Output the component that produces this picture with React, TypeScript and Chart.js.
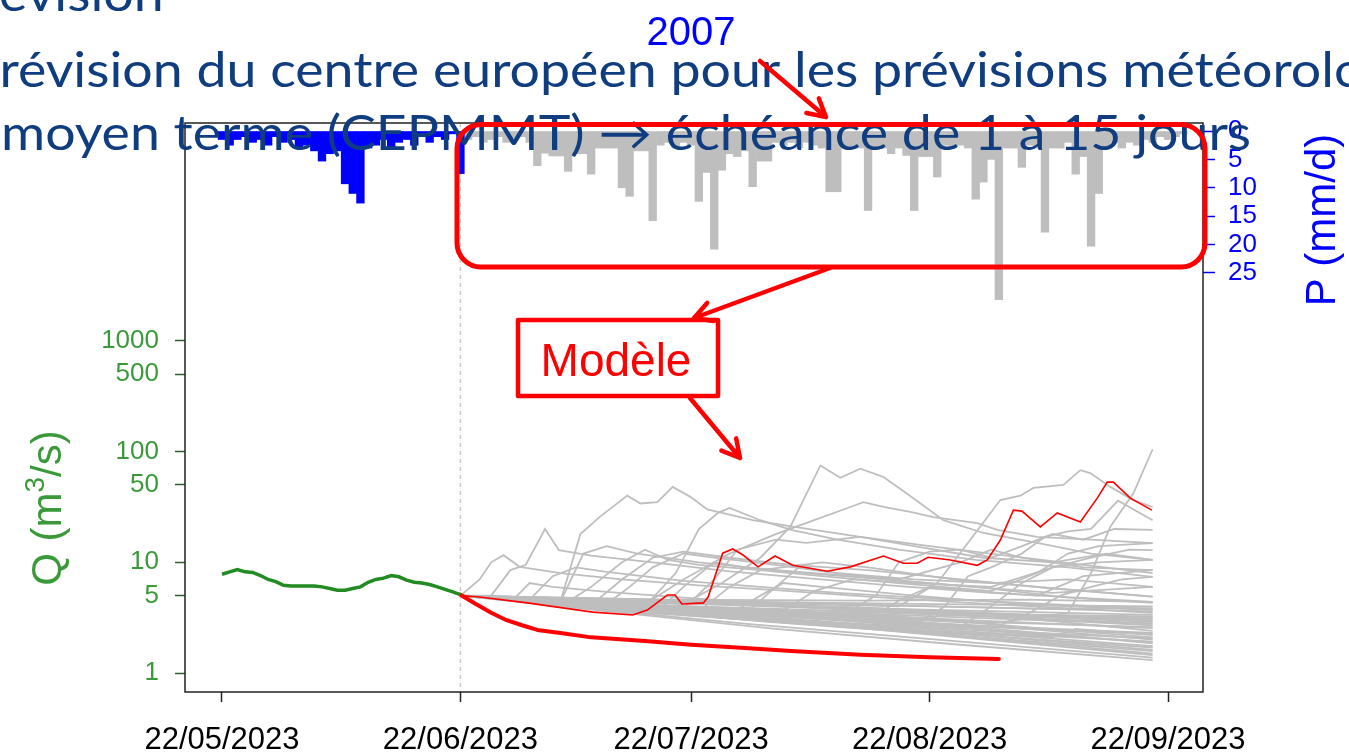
import React, { useEffect, useRef } from "react";
import { Chart, registerables } from "chart.js";

Chart.register(...registerables);

// ---------- data ----------
const DATE_TICK_DAYS = [0, 31, 61, 92, 123]; // days since 22/05/2023
const DATE_TICK_LABELS = ["22/05/2023", "22/06/2023", "22/07/2023", "22/08/2023", "22/09/2023"];
const Q_TICKS = [1, 5, 10, 50, 100, 500, 1000];
const P_TICKS = [0, 5, 10, 15, 20, 25];
const FORECAST_START = 31;

// observed discharge, days 0..31
const OBS_Q = [7.8, 8.2, 8.6, 8.2, 8.1, 7.6, 7.0, 6.7, 6.2, 6.1, 6.1, 6.1, 6.1, 6.0, 5.8, 5.6, 5.6, 5.8, 6.0, 6.6, 7.0, 7.2, 7.6, 7.4, 6.9, 6.6, 6.5, 6.3, 6.0, 5.7, 5.4, 5.1];
// observed precipitation, days 0..31
const OBS_P = [1.5, 2.5, 1.5, 1, 2, 1.5, 2.5, 1, 2, 1.5, 3, 2.5, 3.5, 5.3, 4, 3.5, 9.3, 11, 12.7, 3, 2.5, 1.5, 3, 2, 1.5, 2.5, 1, 2, 1, 1.5, 0.5, 7.5];
// forecast precipitation, days 32..125
const FC_P_START = 32;
const FC_P = [1.5, 1, 2, 1.5, 1, 2, 1.5, 1, 2, 6.1, 3.9, 4.4, 4.4, 7.1, 4, 4, 7.6, 3, 3, 3, 10, 11.5, 3.5, 3.5, 15.8, 2.5, 2, 3, 2, 2.5, 12.4, 7.3, 20.8, 6.9, 4, 4.5, 3.5, 9.8, 5.3, 5.3, 2, 2.5, 2, 3, 2, 2.5, 3, 10.7, 10.7, 3, 3, 3, 14, 3, 3, 4, 3, 4.3, 14, 4.5, 4.5, 8.1, 2.5, 3, 2.5, 3, 12, 9, 5, 29.7, 3, 3, 6.4, 2.5, 3, 17.8, 3, 3, 2, 7.6, 4.5, 20.3, 11, 3, 2, 3, 2, 2.5, 1.5, 2, 1, 1.5, 1, 0.5];

// model without rain (thick red)  [day, Q]
const NORAIN_Q: number[][] = [[31, 5.1], [33, 4.2], [35, 3.5], [37, 3.0], [39, 2.7], [41, 2.45], [44, 2.3], [48, 2.1], [55, 1.95], [61, 1.8], [68, 1.68], [74, 1.58], [83, 1.46], [92, 1.39], [101, 1.34]];
// highlighted member (thin red)
const MEMBER_Q: number[][] = [[31, 5.0], [33.5, 4.86], [39.7, 4.3], [48.2, 3.55], [53.4, 3.34], [55.3, 3.7], [57.9, 5.06], [58.9, 5.06], [59.8, 4.2], [62.6, 4.3], [63.2, 4.86], [65.1, 12.1], [66.4, 13.2], [67.7, 11.7], [69.7, 9.1], [71.9, 11.4], [74.2, 9.4], [78.7, 8.3], [81.7, 9.1], [86, 11.4], [88.6, 9.8], [90.4, 9.8], [91.8, 11.1], [94.7, 10.5], [98.2, 9.4], [99.5, 10.5], [101.2, 15.9], [102.9, 29.6], [104, 29.0], [106.4, 20.9], [108.6, 27.9], [111.6, 23.1], [113.8, 38], [115.1, 53], [115.9, 53], [118.1, 38], [120.9, 29.6]];

// ensemble members (grey)
const ENSEMBLE_Q: number[][][] = [
  [[31, 5], [52, 3.5], [72, 2.5], [96, 1.8], [121, 1.31]],
  [[31, 5], [48, 3.8], [69, 2.75], [93, 2.0], [121, 1.38]],
  [[31, 5], [55, 3.5], [58, 3.9], [75, 3.0], [98, 2.1], [121, 1.5]],
  [[31, 5], [50, 3.9], [71, 2.9], [95, 2.2], [121, 1.58]],
  [[31, 5], [45, 4.1], [66, 3.2], [90, 2.4], [108, 2.1], [111, 2.5], [121, 2.2]],
  [[31, 5], [53, 3.8], [70, 3.1], [94, 2.3], [121, 1.7]],
  [[31, 5], [49, 4.0], [64, 3.4], [67, 3.9], [88, 3.0], [121, 1.85]],
  [[31, 5], [57, 3.7], [78, 2.9], [100, 2.3], [121, 1.92]],
  [[31, 5], [47, 4.15], [68, 3.35], [85, 2.9], [102, 2.6], [121, 2.0]],
  [[31, 5], [51, 4.05], [74, 3.2], [80, 3.6], [99, 2.8], [121, 2.1]],
  [[31, 5], [44, 4.3], [62, 3.7], [86, 3.0], [104, 2.5], [121, 2.25]],
  [[31, 5], [54, 4.0], [76, 3.4], [92, 3.1], [95, 3.6], [121, 2.4]],
  [[31, 5], [50, 4.3], [73, 3.6], [97, 3.0], [121, 2.55]],
  [[31, 5], [46, 4.4], [66, 3.8], [90, 3.3], [112, 2.9], [121, 2.7]],
  [[31, 5], [56, 4.2], [60, 4.6], [82, 3.7], [106, 3.2], [121, 2.9]],
  [[31, 5], [49, 4.5], [71, 4.0], [94, 3.5], [121, 3.1]],
  [[31, 5], [42, 4.6], [63, 4.2], [87, 3.8], [110, 3.5], [121, 3.35]],
  [[31, 5], [52, 4.6], [78, 4.2], [100, 3.9], [121, 3.6]],
  [[31, 5], [47, 4.7], [69, 4.4], [93, 4.2], [121, 4.0]],
  [[31, 5], [58, 4.6], [84, 4.5], [104, 4.6], [121, 4.4]],
  [[31, 5], [36, 4.8], [60, 4.3], [81, 3.95], [101, 3.4], [121, 3.0]],
  [[31, 5], [40, 4.7], [65, 3.6], [89, 2.7], [121, 1.9]],
  [[31, 5], [43, 4.2], [61, 3.3], [84, 2.5], [121, 1.45]],
  [[31, 5], [50, 3.7], [76, 2.8], [102, 2.2], [121, 1.75]],
  [[31, 5], [56, 3.9], [80, 3.1], [103, 2.6], [121, 2.3]],
  [[31, 5], [47, 4.3], [72, 3.8], [96, 3.3], [121, 2.8]],
  [[31, 5], [59, 4.4], [83, 3.9], [108, 3.3], [121, 3.2]],
  [[31, 5], [41, 4.5], [63, 3.9], [90, 3.5], [121, 3.25]],
  [[31, 5], [53, 4.1], [75, 3.5], [98, 2.9], [121, 2.6]],
  [[31, 5], [46, 4.0], [67, 3.2], [91, 2.6], [121, 2.05]],
  [[31, 5], [62, 4.5], [86, 4.1], [107, 3.8], [121, 3.85]],
  [[31, 5], [39, 4.5], [58, 3.7], [79, 2.9], [105, 2.0], [121, 1.62]],
  [[31, 5], [33.5, 7], [35, 10], [36.6, 11.6], [38.7, 9.1], [44, 8], [52, 7], [62, 6.2], [72, 5.6], [84, 4.9], [100, 4.2], [121, 3.5]],
  [[31, 5], [35, 5], [37.5, 8.5], [39.5, 9.5], [42, 20], [43.8, 12.9], [48, 11.5], [56, 10], [66, 8.3], [76, 7.2], [88, 6.1], [100, 5.3], [121, 4.4]],
  [[31, 5], [40, 4.6], [43, 7.5], [46, 9], [50, 8.2], [60, 6.8], [70, 6], [80, 5.3], [95, 4.6], [121, 3.8]],
  [[31, 5], [45, 4.4], [48, 6], [52, 10], [55, 13], [58, 10.5], [62, 9.5], [70, 8.5], [78, 10], [84, 9], [95, 7], [106, 6], [121, 4.9]],
  [[31, 5], [55, 4], [59, 8], [62, 20], [64.5, 28], [66, 31], [70, 24], [74, 19.6], [80, 16], [88, 13], [98, 10.5], [110, 9], [121, 7.4]],
  [[31, 5], [60, 3.8], [64, 7], [67, 13], [72, 16], [76, 15], [83, 17], [90, 14], [99, 11], [108, 10], [115, 12], [121, 10.5]],
  [[31, 5], [50, 4.2], [53, 6], [56, 9], [60, 12], [64, 11], [72, 9.5], [80, 8], [90, 7], [100, 6.5], [110, 7], [121, 6]],
  [[31, 5], [68, 3.4], [72, 6], [75, 9], [80, 8], [88, 7], [96, 10], [100, 13], [104, 11], [112, 9], [121, 8.5]],
  [[31, 5], [80, 3.1], [85, 5], [88, 10], [92, 12.5], [96, 13], [100, 11], [104, 14], [108, 18], [112, 16], [116, 20], [121, 19.6]],
  [[31, 5], [90, 2.7], [94, 4], [97, 7.5], [100, 9], [104, 12], [107, 17], [110, 19], [113, 20], [116.5, 36], [121, 24]],
  [[31, 5], [62, 3.6], [66, 6], [70, 8.5], [78, 7.5], [88, 6.5], [100, 5.5], [106, 8], [110, 12], [114, 14], [121, 14.9]],
  [[31, 5], [72, 3.3], [77, 5.5], [82, 7], [90, 6.5], [100, 6], [108, 9], [113, 11], [118, 13], [121, 12.9]],
  [[31, 5], [48, 4.1], [52, 7], [56, 11], [60, 12.5], [66, 11], [74, 9.5], [84, 8.5], [96, 7], [108, 5.8], [121, 4.9]],
  [[31, 5], [57, 3.8], [60, 6], [64, 10], [68, 9], [76, 8], [86, 7], [98, 6], [110, 4.8], [121, 4.3]],
  [[31, 5], [96, 2.6], [100, 4], [104, 6.5], [108, 9], [114, 10], [121, 10.5]],
  [[31, 5], [84, 3], [88, 4.5], [92, 6], [98, 5.5], [106, 5], [112, 7.5], [121, 8.5]],
  [[31, 5], [38, 4.7], [40, 6.5], [43, 6], [50, 5.4], [60, 4.8], [72, 4.2], [85, 3.7], [100, 3.3], [121, 3.0]],
  [[31, 5], [44, 4.4], [47, 12], [50, 14], [54, 12], [62, 10], [72, 8.5], [82, 7.5], [95, 6.2], [108, 5.3], [121, 6]],
  [[31, 5], [100, 2.5], [105, 3.5], [109, 5], [113, 6], [117, 7], [121, 7.4]],
  [[31, 5], [66, 3.4], [70, 5], [73, 6.5], [78, 6], [90, 5], [104, 4.2], [121, 3.7]],
  [[31, 5], [44, 4.4], [46.6, 18], [49.2, 26], [52.7, 40], [54.4, 34], [56.6, 35], [58.6, 48], [60.9, 39], [63.1, 30], [69, 24], [74.2, 21], [83, 17], [92, 14], [102, 11.5], [112, 9.5], [121, 8]],
  [[31, 5], [60, 4.2], [65, 6.5], [70, 11], [73.9, 21], [77.8, 75], [80.4, 58], [83, 70], [86, 59], [89, 42], [93.8, 24], [99, 18.4], [106, 15], [113, 12], [121, 10.5]],
  [[31, 5], [88, 4], [93, 6.5], [97, 15], [101.2, 36.5], [103.8, 40], [105.5, 47], [109.4, 50], [111.6, 68], [112.9, 64], [115.5, 48], [118.5, 36.5], [121, 31.6]],
  [[31, 5], [70, 3.5], [100, 2.8], [110, 3.5], [113, 8], [115.5, 21], [118.5, 42], [121, 105]],
  [[31, 5], [55, 4.2], [60, 7], [66, 12], [72, 18], [77, 24], [81.7, 31.6], [83.4, 35], [86, 31.6], [89.5, 28.5], [92.5, 25.6], [98.2, 22.6], [100.8, 19.6], [106, 17], [113, 16], [121, 14.9]],
];

// ---------- layout / style ----------
const W = 1349;
const H = 754;
const X_MIN = -4.81;
const X_MAX = 127.55;
const Q_MIN = 0.674;
const Q_MAX = 92900;
const P_MIN = -1.41;
const P_MAX = 98.8;
const GREY = "#bebebe";
const GREEN_TXT = "#3a9a3a";
const SLIDE_BLUE = "#0f3d7f";
const ARIAL = "'Liberation Sans', Arial, sans-serif";
const SLIDE_FONT = "Lato, 'Open Sans', sans-serif";
const SLIDE_SIZE = 48;

const pts = (arr: number[][]) => arr.map(([x, y]) => ({ x, y }));

function arrow(ctx: CanvasRenderingContext2D, x1: number, y1: number, x2: number, y2: number) {
  const ang = Math.atan2(y2 - y1, x2 - x1);
  const len = 20;
  const spread = 0.5;
  ctx.beginPath();
  ctx.moveTo(x1, y1);
  ctx.lineTo(x2, y2);
  ctx.moveTo(x2 - len * Math.cos(ang - spread), y2 - len * Math.sin(ang - spread));
  ctx.lineTo(x2, y2);
  ctx.lineTo(x2 - len * Math.cos(ang + spread), y2 - len * Math.sin(ang + spread));
  ctx.stroke();
}

function slideLine(ctx: CanvasRenderingContext2D, text: string, lead: string, sx: number, x: number, y: number) {
  ctx.save();
  ctx.font = `${SLIDE_SIZE}px ${SLIDE_FONT}`;
  const leadW = lead ? ctx.measureText(lead).width * sx : 0;
  ctx.translate(x - leadW, y);
  ctx.scale(sx, 1);
  ctx.fillStyle = SLIDE_BLUE;
  ctx.textBaseline = "alphabetic";
  ctx.textAlign = "left";
  ctx.fillText(text, 0, 0);
  ctx.restore();
}

const decor = {
  id: "decor",
  beforeDatasetsDraw(chart: any) {
    const { ctx, chartArea: a, scales } = chart;
    const x = scales.x.getPixelForValue(FORECAST_START);
    ctx.save();
    ctx.strokeStyle = "#c8c8c8";
    ctx.lineWidth = 1.5;
    ctx.setLineDash([4, 4]);
    ctx.beginPath();
    ctx.moveTo(x, a.top);
    ctx.lineTo(x, a.bottom);
    ctx.stroke();
    ctx.restore();
  },
  afterDatasetsDraw(chart: any) {
    const { ctx, chartArea: a } = chart;
    ctx.save();
    ctx.strokeStyle = "#222";
    ctx.lineWidth = 1.5;
    ctx.strokeRect(a.left, a.top, a.right - a.left, a.bottom - a.top);
    ctx.restore();
  },
  afterDraw(chart: any) {
    const { ctx } = chart;
    ctx.save();
    // title
    ctx.fillStyle = "#0000ff";
    ctx.font = `40px ${ARIAL}`;
    ctx.textAlign = "center";
    ctx.textBaseline = "alphabetic";
    ctx.fillText("2007", 691, 45);

    // Q axis title
    ctx.save();
    ctx.translate(61, 508);
    ctx.rotate(-Math.PI / 2);
    ctx.fillStyle = GREEN_TXT;
    ctx.textAlign = "left";
    ctx.font = `42px ${ARIAL}`;
    const a1 = "Q (m";
    const a3 = "/s)";
    const w1 = ctx.measureText(a1).width;
    const w3 = ctx.measureText(a3).width;
    ctx.font = `28px ${ARIAL}`;
    const w2 = ctx.measureText("3").width;
    const tot = w1 + w2 + w3;
    let cx = -tot / 2;
    ctx.font = `42px ${ARIAL}`;
    ctx.fillText(a1, cx, 0);
    cx += w1;
    ctx.font = `28px ${ARIAL}`;
    ctx.fillText("3", cx, -17);
    cx += w2;
    ctx.font = `42px ${ARIAL}`;
    ctx.fillText(a3, cx, 0);
    ctx.restore();

    // P axis title
    ctx.save();
    ctx.translate(1335, 220);
    ctx.rotate(-Math.PI / 2);
    ctx.fillStyle = "#0000ff";
    ctx.textAlign = "center";
    ctx.font = `42px ${ARIAL}`;
    ctx.fillText("P (mm/d)", 0, 0);
    ctx.restore();

    // slide text (one common horizontal scale, fitted on the third line)
    const line3 = "moyen terme (CEPMMT) → échéance de 1 à 15 jours";
    ctx.font = `${SLIDE_SIZE}px ${SLIDE_FONT}`;
    const sx = 1250 / ctx.measureText(line3).width;
    slideLine(ctx, "Prévision", "Pr", sx, 0, 11);
    slideLine(ctx, "Prévision du centre européen pour les prévisions météorologiques à", "P", sx, 0, 87);
    slideLine(ctx, line3, "", sx, 1, 150);

    // red annotations
    ctx.strokeStyle = "#ff0000";
    ctx.lineWidth = 5;
    ctx.lineJoin = "round";
    ctx.lineCap = "round";
    ctx.beginPath();
    (ctx as any).roundRect(457, 124.5, 1205 - 457, 267 - 124.5, 24);
    ctx.stroke();
    ctx.lineWidth = 4.5;
    arrow(ctx, 760, 61, 826, 117);
    arrow(ctx, 830, 268, 694, 318);
    arrow(ctx, 690, 398, 740, 458);
    ctx.lineWidth = 4.5;
    ctx.strokeRect(518, 320, 200, 76);
    ctx.fillStyle = "#ff0000";
    ctx.font = `46px ${ARIAL}`;
    ctx.textAlign = "center";
    ctx.fillText("Modèle", 616, 376);
    ctx.restore();
  },
};

export default function App() {
  const ref = useRef<HTMLCanvasElement>(null);
  useEffect(() => {
    document.body.style.margin = "0";
    const canvas = ref.current!;
    const lineBase = { type: "line" as const, pointRadius: 0, tension: 0, fill: false, xAxisID: "x", yAxisID: "y" };
    const datasets: any[] = [
      { ...lineBase, data: OBS_Q.map((q, i) => ({ x: i, y: q })), borderColor: "#228b22", borderWidth: 3.5, order: 1 },
      { ...lineBase, data: pts(NORAIN_Q), borderColor: "#ff0000", borderWidth: 4, borderCapStyle: "round", borderJoinStyle: "round", order: 2 },
      { ...lineBase, data: pts(MEMBER_Q), borderColor: "#ff0000", borderWidth: 1.6, order: 3 },
      ...ENSEMBLE_Q.map((m) => ({ ...lineBase, data: pts(m), borderColor: GREY, borderWidth: 1.8, order: 4 })),
      {
        type: "bar", data: OBS_P.map((p, i) => ({ x: i, y: p })), backgroundColor: "#0000ff",
        xAxisID: "x", yAxisID: "p", grouped: false, barPercentage: 1, categoryPercentage: 1, order: 5,
      },
      {
        type: "bar", data: FC_P.map((p, i) => ({ x: FC_P_START + i, y: p })), backgroundColor: GREY,
        xAxisID: "x", yAxisID: "p", grouped: false, barPercentage: 1, categoryPercentage: 1, order: 6,
      },
    ];
    const chart = new Chart(canvas, {
      type: "bar",
      data: { datasets },
      options: {
        responsive: false,
        animation: false,
        devicePixelRatio: 1,
        layout: { padding: { top: 123, left: 0, right: 0, bottom: 0 } },
        plugins: { legend: { display: false }, tooltip: { enabled: false }, title: { display: false } },
        scales: {
          x: {
            type: "linear", position: "bottom", min: X_MIN, max: X_MAX, offset: false,
            afterBuildTicks: (s: any) => { s.ticks = DATE_TICK_DAYS.map((v) => ({ value: v })); },
            afterFit: (s: any) => { s.height = 62; },
            ticks: {
              autoSkip: false, maxRotation: 0, minRotation: 0, padding: 20, color: "#000",
              font: { family: ARIAL, size: 31 },
              callback: (_v: any, i: number) => DATE_TICK_LABELS[i],
            },
            grid: { display: true, offset: false, drawOnChartArea: false, drawTicks: true, tickLength: 10, tickColor: "#222", tickWidth: 1.5 },
            border: { display: false },
          },
          y: {
            type: "logarithmic", position: "left", min: Q_MIN, max: Q_MAX,
            afterBuildTicks: (s: any) => { s.ticks = Q_TICKS.map((v) => ({ value: v })); },
            afterFit: (s: any) => { s.width = 185; },
            ticks: {
              autoSkip: false, padding: 16, color: GREEN_TXT, font: { family: ARIAL, size: 26 },
              callback: (v: any) => String(v),
            },
            grid: { display: true, drawOnChartArea: false, drawTicks: true, tickLength: 10, tickColor: "#2f5f2f", tickWidth: 1.5 },
            border: { display: false },
          },
          p: {
            type: "linear", position: "right", reverse: true, min: P_MIN, max: P_MAX,
            afterBuildTicks: (s: any) => { s.ticks = P_TICKS.map((v) => ({ value: v })); },
            afterFit: (s: any) => { s.width = W - 1203; },
            ticks: {
              autoSkip: false, padding: 13, color: "#0000ff", font: { family: ARIAL, size: 26 },
              callback: (v: any) => String(v),
            },
            grid: { display: true, drawOnChartArea: false, drawTicks: true, tickLength: 12, tickColor: "#0000ff", tickWidth: 1.5 },
            border: { display: false },
          },
        },
      } as any,
      plugins: [decor as any],
    });
    return () => chart.destroy();
  }, []);
  return (
    <div style={{ position: "absolute", left: 0, top: 0, width: W, height: H, background: "#fff" }}>
      <canvas ref={ref} width={W} height={H} style={{ display: "block", width: W, height: H }} />
    </div>
  );
}
